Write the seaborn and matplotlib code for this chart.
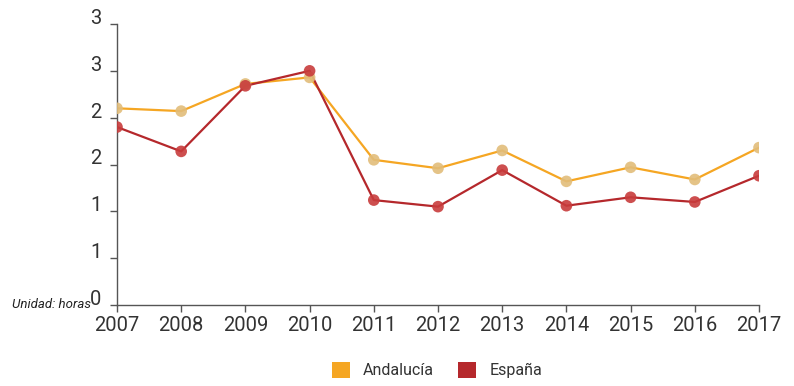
import matplotlib
matplotlib.use("Agg")
import matplotlib.pyplot as plt
import seaborn as sns
import pandas as pd
from matplotlib.ticker import FixedLocator, FuncFormatter
from matplotlib.patches import Patch

years = [2007, 2008, 2009, 2010, 2011, 2012, 2013, 2014, 2015, 2016, 2017]
andalucia = [2.10, 2.07, 2.36, 2.43, 1.55, 1.46, 1.65, 1.32, 1.47, 1.34, 1.68]
espana = [1.90, 1.64, 2.34, 2.50, 1.12, 1.05, 1.44, 1.06, 1.15, 1.10, 1.38]
series_names = ["Andalucía", "España"]
y_ticks = [0, 0.5, 1.0, 1.5, 2.0, 2.5, 3.0]

sns.set_style("white")
plt.rcParams['font.family'] = ['Roboto', 'DejaVu Sans']

df = pd.DataFrame({
    "year": years * 2,
    "value": andalucia + espana,
    "serie": [series_names[0]] * len(years) + [series_names[1]] * len(years),
})

line_colors = {"Andalucía": "#f5a623", "España": "#b5282c"}
marker_colors = {"Andalucía": "#e2bd7a", "España": "#c83c3c"}

fig = plt.figure(figsize=(7.94, 3.86), dpi=100)
ax = fig.add_axes([117/794, 1 - 305/386, (759-117)/794, (305-24)/386])

sns.lineplot(data=df, x="year", y="value", hue="serie", palette=line_colors,
             linewidth=1.6, legend=False, ax=ax, zorder=2)
sns.scatterplot(data=df, x="year", y="value", hue="serie", palette=marker_colors,
                s=70, alpha=0.9, edgecolor="none", legend=False, ax=ax, zorder=3)

ax.set_xlim(2007, 2017)
ax.set_ylim(0, 3)
ax.xaxis.set_major_locator(FixedLocator(years))
ax.yaxis.set_major_locator(FixedLocator(y_ticks))
ax.yaxis.set_major_formatter(FuncFormatter(lambda v, p: str(int(v + 0.5))))
ax.set_xlabel("")
ax.set_ylabel("")

for s in ["top", "right"]:
    ax.spines[s].set_visible(False)
for s in ["left", "bottom"]:
    ax.spines[s].set_color("#555555")
    ax.spines[s].set_linewidth(1.0)
ax.tick_params(axis="both", which="major", length=5, width=1.0, color="#555555",
               labelsize=14.5, labelcolor="#333333", direction="out", left=True, bottom=True)
ax.tick_params(axis="y", pad=6)
ax.tick_params(axis="x", pad=3)
for lbl in ax.get_yticklabels():
    lbl.set_verticalalignment("baseline")

fig.text(12/794, 1 - 304/386, "Unidad: horas", fontsize=9.5, style="italic",
         color="#222222", ha="left", va="center")

handles = [Patch(facecolor=line_colors[n], edgecolor="none") for n in series_names]
fig.legend(handles, series_names, loc="center", bbox_to_anchor=(437/794, 1 - 370/386),
           ncol=2, frameon=False, fontsize=11.5, handlelength=1.15, handleheight=1.15,
           columnspacing=1.5, handletextpad=0.8, labelcolor="#333333")

fig.savefig("out.png", dpi=100)
